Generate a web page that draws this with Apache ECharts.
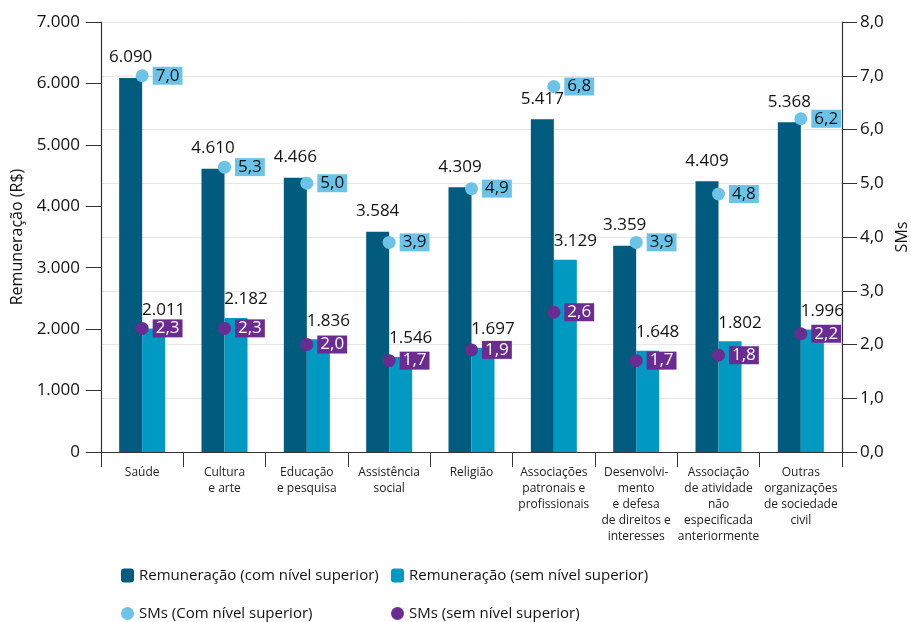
<!DOCTYPE html>
<html>
<head>
<meta charset="utf-8">
<script src="https://cdn.jsdelivr.net/npm/echarts@6/dist/echarts.min.js"></script>
<style>
  html, body { margin: 0; padding: 0; background: #fff; }
  #chart { width: 911px; height: 622px; }
</style>
</head>
<body>
<div id="chart"></div>
<script>
// categorias (eixo x)
var categorias = [
    'Saúde',
    'Cultura\ne arte',
    'Educação\ne pesquisa',
    'Assistência\nsocial',
    'Religião',
    'Associações\npatronais e\nprofissionais',
    'Desenvolvi-\nmento\ne defesa\nde direitos e\ninteresses',
    'Associação\nde atividade\nnão\nespecificada\nanteriormente',
    'Outras\norganizações\nde sociedade\ncivil'
];

// remuneração em R$
var remComSuperior = [6090, 4610, 4466, 3584, 4309, 5417, 3359, 4409, 5368];
var remSemSuperior = [2011, 2182, 1836, 1546, 1697, 3129, 1648, 1802, 1996];

// salários mínimos
var smComSuperior = [7.0, 5.3, 5.0, 3.9, 4.9, 6.8, 3.9, 4.8, 6.2];
var smSemSuperior = [2.3, 2.3, 2.0, 1.7, 1.9, 2.6, 1.7, 1.8, 2.2];

var nomes = [
    'Remuneração (com nível superior)',
    'Remuneração (sem nível superior)',
    'SMs (Com nível superior)',
    'SMs (sem nível superior)'
];

var FONTE = '"Open Sans", "Noto Sans", sans-serif';
var cores = {
    escuro: '#005b7f',
    claro: '#0099c2',
    ponto: '#6bc4e8',
    roxo: '#6a2c91'
};

// formata número com ponto de milhar
function milhar(v) {
    return String(v).replace(/\B(?=(\d{3})+(?!\d))/g, '.');
}
// formata com vírgula decimal
function decimal(v) {
    return v.toFixed(1).replace('.', ',');
}

// uma legenda por item, em grade 2x2
function legenda(nome, left, top) {
    return {
        data: [nome],
        left: left,
        top: top,
        itemWidth: 13,
        itemHeight: 14,
        textStyle: { fontSize: 15, color: '#111', fontFamily: FONTE }
    };
}

var chart = echarts.init(document.getElementById('chart'));

var option = {
    animation: false,
    textStyle: { fontFamily: FONTE },
    grid: {
        left: 101,
        right: 69,
        top: 22,
        bottom: 170,
        outerBoundsMode: 'none'
    },
    legend: [
        legenda(nomes[0], 116, 563),
        legenda(nomes[1], 386, 563),
        legenda(nomes[2], 116, 601),
        legenda(nomes[3], 386, 601)
    ],
    xAxis: {
        type: 'category',
        data: categorias,
        axisLine: { lineStyle: { color: '#333', width: 1.2 } },
        axisTick: { show: true, length: 15, lineStyle: { color: '#333' } },
        axisLabel: {
            interval: 0,
            fontSize: 12,
            lineHeight: 16,
            color: '#222',
            margin: 13
        }
    },
    yAxis: [{
        type: 'value',
        min: 0,
        max: 7000,
        interval: 1000,
        name: 'Remuneração (R$)',
        nameLocation: 'middle',
        nameGap: 74,
        nameTextStyle: { fontSize: 16, color: '#111' },
        axisLine: { show: true, lineStyle: { color: '#333', width: 1.2 } },
        axisTick: { show: true, length: 15, lineStyle: { color: '#333' } },
        axisLabel: {
            fontSize: 17,
            color: '#111',
            margin: 21,
            formatter: function (v) { return milhar(v); }
        },
        splitLine: { show: false }
    }, {
        type: 'value',
        min: 0,
        max: 8,
        interval: 1,
        name: 'SMs',
        nameLocation: 'middle',
        nameGap: 50,
        nameTextStyle: { fontSize: 16, color: '#111' },
        axisLine: { show: true, lineStyle: { color: '#333', width: 1.2 } },
        axisTick: { show: true, length: 15, lineStyle: { color: '#333' } },
        axisLabel: {
            fontSize: 17,
            color: '#111',
            margin: 18,
            formatter: function (v) { return decimal(v); }
        },
        splitLine: { show: true, lineStyle: { color: '#e6e6e6' } }
    }],
    series: [{
        name: nomes[0],
        type: 'bar',
        barWidth: 23,
        barGap: '0%',
        itemStyle: { color: cores.escuro },
        label: {
            show: true,
            position: 'top',
            distance: 12,
            fontSize: 17,
            color: '#111',
            formatter: function (p) { return milhar(p.value); }
        },
        data: remComSuperior
    }, {
        name: nomes[1],
        type: 'bar',
        barWidth: 23,
        itemStyle: { color: cores.claro },
        label: {
            show: true,
            position: 'top',
            distance: 10,
            offset: [10, 0],
            fontSize: 17,
            color: '#111',
            formatter: function (p) { return milhar(p.value); }
        },
        data: remSemSuperior
    }, {
        name: nomes[2],
        type: 'scatter',
        yAxisIndex: 1,
        symbolSize: 13,
        z: 5,
        itemStyle: { color: cores.ponto, opacity: 1 },
        label: {
            show: true,
            position: 'right',
            distance: 4,
            fontSize: 17,
            color: '#111',
            backgroundColor: cores.ponto,
            padding: [1, 3, 0, 3],
            formatter: function (p) { return decimal(p.value); }
        },
        data: smComSuperior
    }, {
        name: nomes[3],
        type: 'scatter',
        yAxisIndex: 1,
        symbolSize: 13,
        z: 5,
        itemStyle: { color: cores.roxo, opacity: 1 },
        label: {
            show: true,
            position: 'right',
            distance: 4,
            fontSize: 17,
            color: '#fff',
            backgroundColor: cores.roxo,
            padding: [1, 3, 0, 3],
            formatter: function (p) { return decimal(p.value); }
        },
        data: smSemSuperior
    }]
};

chart.setOption(option);
</script>
</body>
</html>
